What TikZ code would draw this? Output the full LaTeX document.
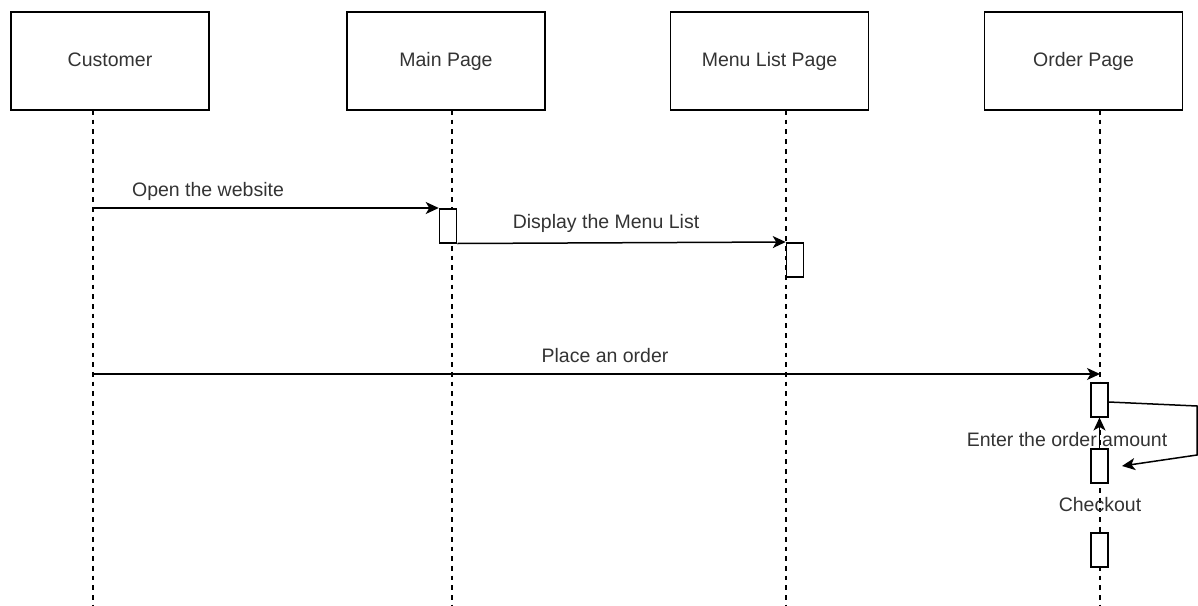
\documentclass[tikz,border=0pt]{standalone}
\usepackage{fontspec}
\setmainfont{Liberation Sans}
\usetikzlibrary{arrows.meta}
\definecolor{ink}{HTML}{333333}
\tikzset{
  actor/.style={draw, line width=1.5pt, minimum width=198pt, minimum height=98pt,
    inner sep=0pt, text height=14pt, text depth=4pt,
    font=\fontsize{19.5}{23}\selectfont, text=ink},
  lifeline/.style={line width=1.4pt, dash pattern=on 4.7pt off 5pt},
  actbox/.style={draw, fill=white, line width=1.5pt, minimum width=17pt,
    minimum height=34pt, inner sep=0pt, anchor=north},
  msg/.style={line width=1.5pt, -{Stealth[length=13pt,width=12pt,inset=3.5pt]}},
  lbl/.style={font=\fontsize{19.5}{23}\selectfont, text=ink, inner sep=0pt}
}
\begin{document}
\begin{tikzpicture}[x=1pt,y=-1pt]
\useasboundingbox (0,0) rectangle (1198,605);
\clip (0,0) rectangle (1198,605);

% participants
\node[actor] (cust) at (110,61) {Customer};
\node[actor] (main) at (446,61) {Main Page};
\node[actor] (menu) at (769.5,61) {Menu List Page};
\node[actor] (order) at (1083.5,61) {Order Page};

% lifeline ends
\coordinate (custT) at (93,110);   \coordinate (custB) at (93,605);
\coordinate (mainT) at (452,110);  \coordinate (mainB) at (452,605);
\coordinate (menuT) at (786,110);  \coordinate (menuB) at (786,605);
\coordinate (ordT) at (1100,110);  \coordinate (ordB) at (1100,605);

\draw[lifeline] (custT) -- (custB);
\draw[lifeline] (mainT) -- (mainB);
\draw[lifeline] (menuT) -- (menuB);
\draw[lifeline] (ordT) -- (ordB);

% activations
\node[actbox] (a1) at (448,208) {};
\node[actbox] (a2) at (795,242) {};
\node[actbox] (a3) at (1099.5,382) {};
\node[actbox] (a4) at (1099.5,448) {};
\node[actbox] (a5) at (1099.5,532) {};

% message start points on the lifelines
\coordinate (m1) at (93,208);
\coordinate (m3) at (93,374);
\coordinate (m3e) at (1100,374);
\coordinate (loopA) at (1197,406);
\coordinate (loopB) at (1197,455);
\coordinate (loopE) at (1122,466);

% messages
\draw[msg] (m1) -- (a1.north west);
\node[lbl] at (208,191) {Open the website};

\draw[msg] (a1.south east) -- (a2.north west);
\node[lbl] at (606,223) {Display the Menu List};

\draw[msg] (m3) -- (m3e);
\node[lbl] at (605,356) {Place an order};

\draw[msg] (a3.east |- 0,402) -- (loopA) -- (loopB) -- (loopE);
\draw[msg] (a4.north) -- (a3.south);
\node[lbl] at (1067,440) {Enter the order amount};

\node[lbl] at (1100,505) {Checkout};
\end{tikzpicture}
\end{document}
